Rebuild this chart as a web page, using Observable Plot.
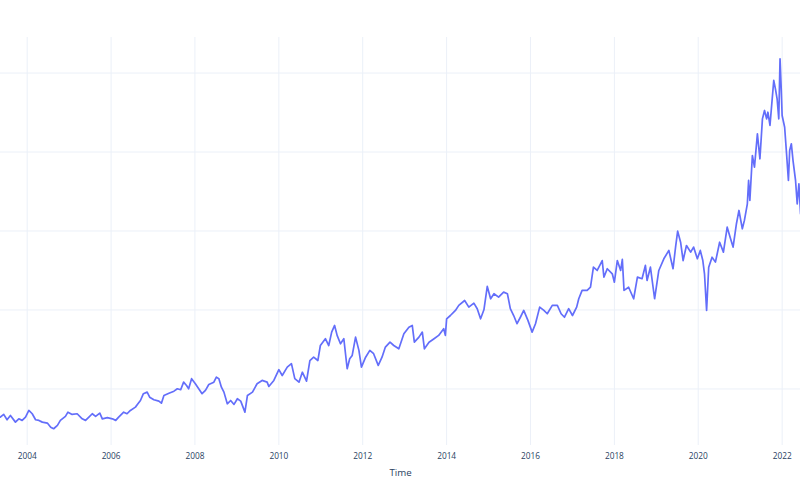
<!DOCTYPE html>
<html>
<head>
<meta charset="utf-8">
<script src="https://cdn.jsdelivr.net/npm/d3@7"></script>
<script src="https://cdn.jsdelivr.net/npm/@observablehq/plot@0.6"></script>
<style>
  html, body { margin: 0; padding: 0; background: #ffffff; }
  #chart svg { display: block; }
</style>
</head>
<body>
<div id="chart"></div>
<script>
const years = [
  2003.36, 2003.44, 2003.52, 2003.60, 2003.72, 2003.80, 2003.88, 2003.96, 2004.04, 2004.12,
  2004.20, 2004.28, 2004.36, 2004.48, 2004.56, 2004.63, 2004.72, 2004.79, 2004.91, 2004.97,
  2005.07, 2005.19, 2005.31, 2005.39, 2005.47, 2005.55, 2005.63, 2005.73, 2005.79, 2005.91,
  2006.03, 2006.11, 2006.18, 2006.30, 2006.38, 2006.46, 2006.58, 2006.64, 2006.70, 2006.77,
  2006.86, 2006.92, 2007.02, 2007.14, 2007.20, 2007.26, 2007.38, 2007.50, 2007.58, 2007.66,
  2007.73, 2007.80, 2007.85, 2007.92, 2008.01, 2008.09, 2008.17, 2008.25, 2008.33, 2008.45,
  2008.51, 2008.57, 2008.63, 2008.69, 2008.77, 2008.85, 2008.93, 2009.01, 2009.09, 2009.19,
  2009.25, 2009.37, 2009.48, 2009.60, 2009.72, 2009.76, 2009.88, 2010.00, 2010.08, 2010.20,
  2010.30, 2010.38, 2010.48, 2010.56, 2010.66, 2010.74, 2010.83, 2010.93, 2010.99, 2011.11,
  2011.19, 2011.26, 2011.33, 2011.39, 2011.47, 2011.55, 2011.63, 2011.69, 2011.75, 2011.83,
  2011.91, 2011.97, 2012.07, 2012.17, 2012.26, 2012.37, 2012.46, 2012.54, 2012.65, 2012.74,
  2012.86, 2012.98, 2013.10, 2013.18, 2013.23, 2013.34, 2013.42, 2013.47, 2013.58, 2013.70,
  2013.81, 2013.93, 2013.97, 2014.00, 2014.09, 2014.21, 2014.29, 2014.43, 2014.53, 2014.65,
  2014.73, 2014.81, 2014.89, 2014.97, 2015.05, 2015.13, 2015.24, 2015.36, 2015.45, 2015.52,
  2015.60, 2015.68, 2015.76, 2015.84, 2015.94, 2016.04, 2016.12, 2016.22, 2016.32, 2016.40,
  2016.52, 2016.64, 2016.73, 2016.81, 2016.91, 2017.00, 2017.10, 2017.15, 2017.23, 2017.35,
  2017.43, 2017.50, 2017.59, 2017.71, 2017.75, 2017.83, 2017.95, 2018.00, 2018.07, 2018.15,
  2018.19, 2018.23, 2018.34, 2018.46, 2018.55, 2018.66, 2018.74, 2018.78, 2018.86, 2018.96,
  2019.06, 2019.18, 2019.30, 2019.40, 2019.46, 2019.51, 2019.58, 2019.64, 2019.72, 2019.82,
  2019.89, 2019.98, 2020.05, 2020.11, 2020.15, 2020.20, 2020.25, 2020.33, 2020.41, 2020.51,
  2020.60, 2020.69, 2020.77, 2020.83, 2020.91, 2020.97, 2021.05, 2021.10, 2021.17, 2021.20,
  2021.23, 2021.29, 2021.34, 2021.41, 2021.47, 2021.53, 2021.58, 2021.63, 2021.66, 2021.71,
  2021.75, 2021.80, 2021.84, 2021.88, 2021.92, 2021.95, 2021.98, 2022.00, 2022.06, 2022.10,
  2022.15, 2022.18, 2022.22, 2022.26, 2022.32, 2022.36, 2022.40, 2022.44
];

// Series values at those dates
const values = [
  32.2, 33.9, 30.5, 33.2, 29.0, 31.1, 30.1, 32.2, 36.4, 34.3,
  30.5, 30.1, 29.0, 28.4, 25.8, 24.8, 26.9, 30.1, 32.6, 35.3,
  33.9, 34.3, 31.1, 30.1, 32.2, 34.3, 32.6, 34.7, 31.1, 31.8,
  31.1, 30.1, 32.2, 35.3, 34.3, 36.4, 38.5, 40.6, 42.7, 47.0,
  48.0, 44.8, 43.2, 42.3, 41.0, 45.9, 47.3, 48.6, 50.1, 49.5,
  54.3, 52.2, 50.1, 56.5, 53.3, 50.1, 47.0, 49.1, 52.8, 54.3,
  57.5, 56.5, 51.1, 48.0, 40.6, 42.7, 40.2, 43.8, 42.3, 35.3,
  45.9, 48.0, 53.3, 55.4, 54.3, 51.6, 55.4, 62.2, 58.5, 63.8,
  66.0, 56.5, 54.3, 60.6, 54.9, 68.0, 70.1, 68.0, 77.5, 81.8,
  77.5, 86.0, 90.2, 83.9, 78.6, 81.8, 62.8, 69.1, 71.2, 82.8,
  74.4, 63.8, 70.1, 74.4, 72.3, 64.9, 70.1, 76.5, 79.6, 77.5,
  75.4, 84.9, 89.1, 90.2, 79.6, 82.8, 86.0, 75.4, 79.6, 81.8,
  83.9, 88.1, 83.9, 94.4, 96.5, 99.7, 102.9, 106.0, 101.8, 104.3,
  100.8, 94.4, 100.1, 114.9, 107.1, 110.3, 108.1, 111.3, 110.3, 100.8,
  96.5, 91.3, 95.4, 99.7, 93.4, 86.0, 91.3, 101.8, 99.7, 97.6,
  102.9, 102.9, 97.6, 95.4, 100.8, 96.5, 101.8, 107.1, 112.4, 112.4,
  114.4, 127.1, 125.0, 131.3, 120.8, 126.1, 122.9, 117.6, 131.3, 125.0,
  132.0, 112.4, 114.4, 107.1, 120.8, 119.8, 128.2, 118.7, 127.1, 107.1,
  125.0, 132.4, 137.7, 126.1, 139.8, 149.9, 142.9, 131.3, 140.8, 136.6,
  139.8, 132.4, 137.7, 131.3, 122.9, 99.7, 127.1, 133.4, 130.3, 142.9,
  136.6, 152.4, 145.1, 139.8, 154.6, 163.0, 151.4, 156.7, 167.2, 182.0,
  169.3, 197.8, 190.4, 211.5, 195.7, 221.0, 226.3, 221.0, 225.2, 216.8,
  229.5, 245.3, 240.0, 233.7, 221.0, 259.0, 238.9, 223.1, 215.7, 201.0,
  182.0, 201.0, 205.2, 194.6, 182.0, 167.2, 179.9, 160.9
];

// Axis tick years and horizontal grid values
const xTickYears = [2004, 2006, 2008, 2010, 2012, 2014, 2016, 2018, 2020, 2022];
const yGridValues = [50, 100, 150, 200, 250];
const xDomainYears = [2003.3634, 2022.4383];
const yDomain = [14.2, 272.5];

function toDate(y) {
  const yr = Math.floor(y);
  const start = Date.UTC(yr, 0, 1), end = Date.UTC(yr + 1, 0, 1);
  return new Date(start + (y - yr) * (end - start));
}

const data = years.map((y, i) => ({ date: toDate(y), value: values[i] }));
const tickDates = xTickYears.map(y => new Date(Date.UTC(y, 0, 1)));

const chart = Plot.plot({
  width: 800,
  height: 500,
  marginLeft: 0,
  marginRight: 0,
  marginTop: 37,
  marginBottom: 55,
  style: { fontFamily: "'Open Sans', sans-serif", fontSize: "8.3px", background: "#ffffff", color: "#2a3f5f" },
  x: { type: "utc", domain: xDomainYears.map(toDate), axis: null },
  y: { domain: yDomain, axis: null },
  marks: [
    Plot.gridX(tickDates, { stroke: "#EBF0F8", strokeOpacity: 1, strokeWidth: 1 }),
    Plot.gridY(yGridValues, { stroke: "#EBF0F8", strokeOpacity: 1, strokeWidth: 1 }),
    Plot.lineY(data, { x: "date", y: "value", stroke: "#636efa", strokeWidth: 1.7, strokeLinejoin: "round", clip: true }),
    Plot.axisX(tickDates, {
      tickSize: 0,
      tickPadding: 7.4,
      tickFormat: d3.utcFormat("%Y"),
      fill: "#2a3f5f",
      label: null
    }),
    Plot.text(["Time"], {
      frameAnchor: "bottom",
      dy: 27.7,
      lineAnchor: "middle",
      fontSize: 9.7,
      fill: "#2a3f5f"
    })
  ]
});

document.getElementById("chart").appendChild(chart);
</script>
</body>
</html>
